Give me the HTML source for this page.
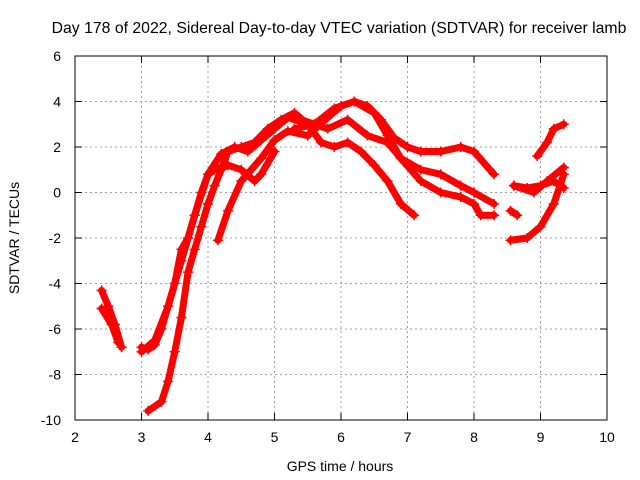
<!DOCTYPE html>
<html><head><meta charset="utf-8"><style>
body{margin:0;background:#fff}
svg{display:block;font-family:"Liberation Sans",sans-serif}
</style></head><body>
<svg id="chart" width="640" height="480">
<text x="339" y="33" font-size="15.8" text-anchor="middle">Day 178 of 2022, Sidereal Day-to-day VTEC variation (SDTVAR) for receiver lamb</text>
<text x="340" y="471" font-size="14" text-anchor="middle">GPS time / hours</text>
<text transform="translate(19,238) rotate(-90)" font-size="14" text-anchor="middle">SDTVAR / TECUs</text>
<g id="grid"></g><g id="series"></g>
<rect x="75" y="56" width="532" height="364" fill="none" stroke="#000"/>
</svg>
<script>
const xTicks=[2,3,4,5,6,7,8,9,10];
const yTicks=[-10,-8,-6,-4,-2,0,2,4,6];
const s1=[[2.4,-4.3],[2.5,-5],[2.6,-5.8],[2.7,-6.8]];
const s2=[[2.4,-5.1],[2.55,-5.8],[2.65,-6.6]];
const s3=[[3.0,-6.8],[3.1,-6.9],[3.2,-6.7],[3.3,-6],[3.4,-5],[3.5,-4],[3.6,-2.5],[3.7,-2],[3.8,-1],[3.9,0],[4.0,0.8],[4.1,1],[4.3,1.2],[4.5,1],[4.7,0.5],[4.8,0.8],[5.0,1.8]];
const s4=[[3.1,-9.6],[3.3,-9.2],[3.4,-8.3],[3.5,-7],[3.6,-5.5],[3.7,-3.5],[3.8,-2.5],[3.9,-1.5],[4.0,-0.5],[4.1,0.3],[4.2,1],[4.3,1.8],[4.5,2],[4.7,2.2],[4.9,2.8],[5.1,3.2],[5.3,3.5],[5.5,3],[5.7,2.2],[5.9,2],[6.1,2.2],[6.3,1.8],[6.5,1.2],[6.7,0.5],[6.9,-0.5],[7.1,-1]];
const s5=[[3.0,-7],[3.2,-6.5],[3.4,-5],[3.6,-3],[3.8,-1],[4.0,0.8],[4.2,1.7],[4.4,2],[4.6,1.8],[4.8,2.3],[5.0,2.8],[5.2,3.3],[5.4,3.1]];
const s6=[[4.15,-2.1],[4.3,-0.8],[4.5,0.5],[4.8,1.5],[5.0,2.3],[5.2,2.7],[5.5,2.5],[5.8,3.3],[6.0,3.8],[6.2,4],[6.4,3.8],[6.6,3.2],[6.8,2.4],[7.0,2],[7.2,1.8],[7.5,1.8],[7.8,2],[8.0,1.8],[8.3,0.8]];
const s7=[[5.3,2.8],[5.6,3],[5.9,3.7],[6.2,4],[6.5,3.5],[6.7,2.5],[6.9,1.5],[7.2,1],[7.5,0.8],[7.8,0.3],[8.0,0],[8.3,-0.5]];
const s8=[[5.4,3.2],[5.8,2.8],[6.1,3.2],[6.4,2.5],[6.7,2.2],[6.9,1.5],[7.2,0.5],[7.5,0],[7.8,-0.2],[8.0,-0.5],[8.1,-1],[8.3,-1]];
const s9=[[8.6,0.3],[8.8,0.2],[9.0,0.3],[9.2,0.5],[9.35,0.2]];
const s10=[[8.55,-0.8],[8.65,-1.0]];
const s11=[[8.55,-2.1],[8.8,-2],[9.0,-1.5],[9.2,-0.5],[9.35,0.8]];
const s12=[[8.6,0.3],[8.9,0],[9.1,0.5],[9.35,1.1]];
const s13=[[8.95,1.6],[9.1,2.2],[9.2,2.8],[9.35,3.0]];
const allSeries=[s1,s2,s3,s4,s5,s6,s7,s8,s9,s10,s11,s12,s13];
const X=v=>75+(v-2)*532/8, Y=v=>420-(v+10)*364/16;
const NS="http://www.w3.org/2000/svg";
const g=document.getElementById('grid'), sg=document.getElementById('series');
function mk(t,a,p){const e=document.createElementNS(NS,t);for(const k in a)e.setAttribute(k,a[k]);p.appendChild(e);return e;}
xTicks.forEach(t=>{const x=X(t);
 if(t>2&&t<10){const l=mk('line',{x1:x,x2:x,y1:56,y2:420,stroke:'#a0a0a0','stroke-dasharray':'2,3'},g);}
 mk('line',{x1:x,x2:x,y1:420,y2:413,stroke:'#000'},g);mk('line',{x1:x,x2:x,y1:56,y2:63,stroke:'#000'},g);
 const tx=mk('text',{x:x,y:442,'font-size':14,'text-anchor':'middle'},g);tx.textContent=t;
 });
yTicks.forEach(t=>{const y=Y(t);
 if(t>-10&&t<6){const l=mk('line',{x1:75,x2:607,y1:y,y2:y,stroke:'#a0a0a0','stroke-dasharray':'2,3'},g);}
 mk('line',{x1:75,x2:82,y1:y,y2:y,stroke:'#000'},g);mk('line',{x1:600,x2:607,y1:y,y2:y,stroke:'#000'},g);
 const tx=mk('text',{x:61,y:y+5,'font-size':14,'text-anchor':'end'},g);tx.textContent=t;
 });
allSeries.forEach((s,i)=>{
 const p=mk('polyline',{points:s.map(d=>X(d[0])+','+Y(d[1])).join(' '),fill:'none',stroke:'#f00','stroke-width':7,'stroke-linejoin':'round','stroke-linecap':'round'},sg);
 
 
 s.forEach(d=>{const x=X(d[0]),y=Y(d[1]);
  mk('path',{d:`M${x-5},${y}H${x+5}M${x},${y-5}V${y+5}`,stroke:'#f00','stroke-width':1.5},sg);});
});
</script>
</body></html>
